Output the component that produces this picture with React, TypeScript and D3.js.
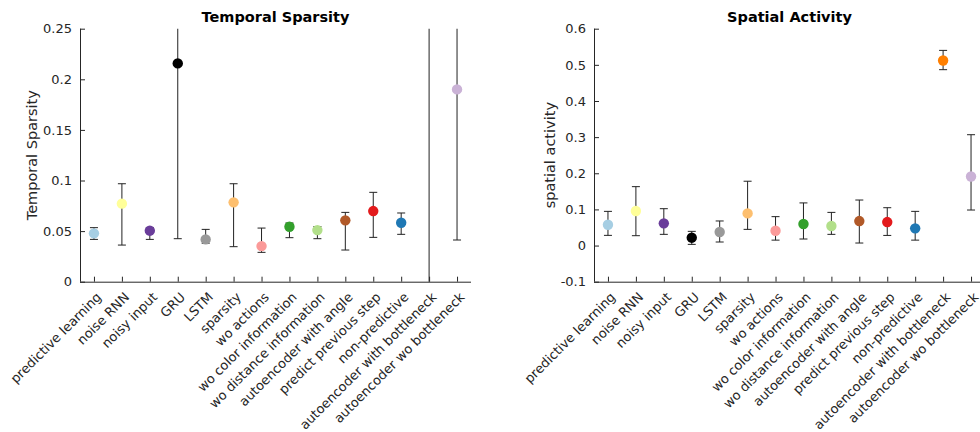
import React, { useEffect, useRef } from 'react';
import * as d3 from 'd3';

const categories = [
  'predictive learning', 'noise RNN', 'noisy input', 'GRU', 'LSTM', 'sparsity', 'wo actions',
  'wo color information', 'wo distance information', 'autoencoder with angle',
  'predict previous step', 'non-predictive', 'autoencoder with bottleneck', 'autoencoder wo bottleneck',
];

const colors = [
  '#a6cee3', '#ffff99', '#6a3d9a', '#000000', '#999999', '#fdbf6f', '#fb9a99',
  '#33a02c', '#b2df8a', '#b15928', '#e31a1c', '#1f78b4', '#ff7f00', '#cab2d6',
];

// temporal sparsity: mean and error bar ends
const temporalMean = [0.0478, 0.0771, 0.0504, 0.2157, 0.0418, 0.0784, 0.0352, 0.0543, 0.051, 0.0606, 0.0698, 0.0583, 0.35, 0.19];
const temporalLow = [0.0418, 0.0362, 0.0418, 0.0425, 0.038, 0.0346, 0.029, 0.0435, 0.0425, 0.0313, 0.0438, 0.0468, -0.1, 0.0412];
const temporalHigh = [0.0534, 0.0968, 0.0534, 0.4, 0.0517, 0.0968, 0.053, 0.058, 0.0545, 0.0685, 0.0883, 0.0679, 0.8, 0.34];

// spatial activity
const spatialMean = [0.0577, 0.0955, 0.0614, 0.0218, 0.0374, 0.089, 0.0411, 0.0596, 0.054, 0.0678, 0.065, 0.0476, 0.512, 0.191];
const spatialLow = [0.0282, 0.0273, 0.031, 0.0033, 0.0098, 0.0448, 0.015, 0.0181, 0.031, 0.007, 0.028, 0.015, 0.4866, 0.0983];
const spatialHigh = [0.0946, 0.163, 0.102, 0.0393, 0.068, 0.178, 0.08, 0.118, 0.0918, 0.126, 0.1047, 0.0946, 0.54, 0.3067];

const temporalTicks = [0, 0.05, 0.1, 0.15, 0.2, 0.25];
const spatialTicks = [-0.1, 0, 0.1, 0.2, 0.3, 0.4, 0.5, 0.6];

const FONT = 'DejaVu Sans, sans-serif';
const AXIS = '#262626';

interface Panel {
  id: string;
  title: string;
  ylabel: string;
  left: number;
  yLabelX: number;
  domain: [number, number];
  ticks: number[];
  mean: number[];
  low: number[];
  high: number[];
}

const panels: Panel[] = [
  { id: 'tmp', title: 'Temporal Sparsity', ylabel: 'Temporal Sparsity', left: 80, yLabelX: 32, domain: [0, 0.25], ticks: temporalTicks, mean: temporalMean, low: temporalLow, high: temporalHigh },
  { id: 'spa', title: 'Spatial Activity', ylabel: 'spatial activity', left: 594, yLabelX: 550, domain: [-0.1, 0.6], ticks: spatialTicks, mean: spatialMean, low: spatialLow, high: spatialHigh },
];

const App: React.FC = () => {
  const svgRef = useRef<SVGSVGElement>(null);

  useEffect(() => {
    if (!svgRef.current) return;
    const svg = d3.select(svgRef.current);
    svg.selectAll('*').remove();

    const top = 28.7;
    const bottom = 281.7;
    const plotW = 391;

    panels.forEach(p => {
      const x = d3.scaleLinear().domain([0.5, categories.length + 0.5]).range([p.left, p.left + plotW]);
      const y = d3.scaleLinear().domain(p.domain).range([bottom, top]);

      svg.append('clipPath').attr('id', `clip-${p.id}`)
        .append('rect').attr('x', p.left).attr('y', top).attr('width', plotW).attr('height', bottom - top);

      const g = svg.append('g').attr('clip-path', `url(#clip-${p.id})`);

      categories.forEach((_, i) => {
        const cx = x(i + 1);
        g.append('line')
          .attr('x1', cx).attr('x2', cx)
          .attr('y1', y(p.low[i])).attr('y2', y(p.high[i]))
          .attr('stroke', '#222').attr('stroke-width', 1);
        [p.low[i], p.high[i]].forEach(v => {
          g.append('line')
            .attr('x1', cx - 4).attr('x2', cx + 4)
            .attr('y1', y(v)).attr('y2', y(v))
            .attr('stroke', '#222').attr('stroke-width', 1);
        });
        g.append('circle')
          .attr('cx', cx).attr('cy', y(p.mean[i]))
          .attr('r', 5.2)
          .attr('fill', colors[i]);
      });

      // axes
      const yAxis = d3.axisLeft(y).tickValues(p.ticks).tickSize(-5).tickPadding(8).tickFormat(d => `${+d}`);
      svg.append('g').attr('transform', `translate(${p.left},0)`).call(yAxis)
        .call(a => a.select('.domain').attr('stroke', AXIS).attr('d', `M0.5,${bottom}V${top}`))
        .call(a => a.selectAll('line').attr('stroke', AXIS))
        .call(a => a.selectAll('text').attr('fill', AXIS).style('font-family', FONT).style('font-size', '13px'));

      const xAxis = d3.axisBottom(x).tickValues(d3.range(1, categories.length + 1)).tickSize(-5).tickFormat(() => '');
      svg.append('g').attr('transform', `translate(0,${bottom})`).call(xAxis)
        .call(a => a.select('.domain').attr('stroke', AXIS).attr('d', `M${p.left},0.5H${p.left + plotW}`))
        .call(a => a.selectAll('line').attr('stroke', AXIS));

      categories.forEach((c, i) => {
        const tx = x(i + 1) + 5;
        const ty = bottom + 13;
        svg.append('text')
          .attr('transform', `translate(${tx},${ty}) rotate(-45)`)
          .attr('text-anchor', 'end')
          .attr('dy', '0.35em')
          .attr('fill', AXIS)
          .style('font-family', FONT)
          .style('font-size', '13px')
          .text(c);
      });

      svg.append('text')
        .attr('x', p.left + plotW / 2).attr('y', 22)
        .attr('text-anchor', 'middle')
        .attr('fill', '#000')
        .style('font-family', FONT)
        .style('font-size', '14.5px')
        .style('font-weight', 'bold')
        .text(p.title);

      svg.append('text')
        .attr('transform', `translate(${p.yLabelX},${(top + bottom) / 2}) rotate(-90)`)
        .attr('text-anchor', 'middle')
        .attr('dy', '0.35em')
        .attr('fill', AXIS)
        .style('font-family', FONT)
        .style('font-size', '14.5px')
        .text(p.ylabel);
    });
  }, []);

  return (
    <div style={{ position: 'absolute', left: 0, top: 0, width: 980, height: 432, background: '#fff' }}>
      <svg ref={svgRef} width={980} height={432} viewBox="0 0 980 432" style={{ display: 'block' }} />
    </div>
  );
};

export default App;
